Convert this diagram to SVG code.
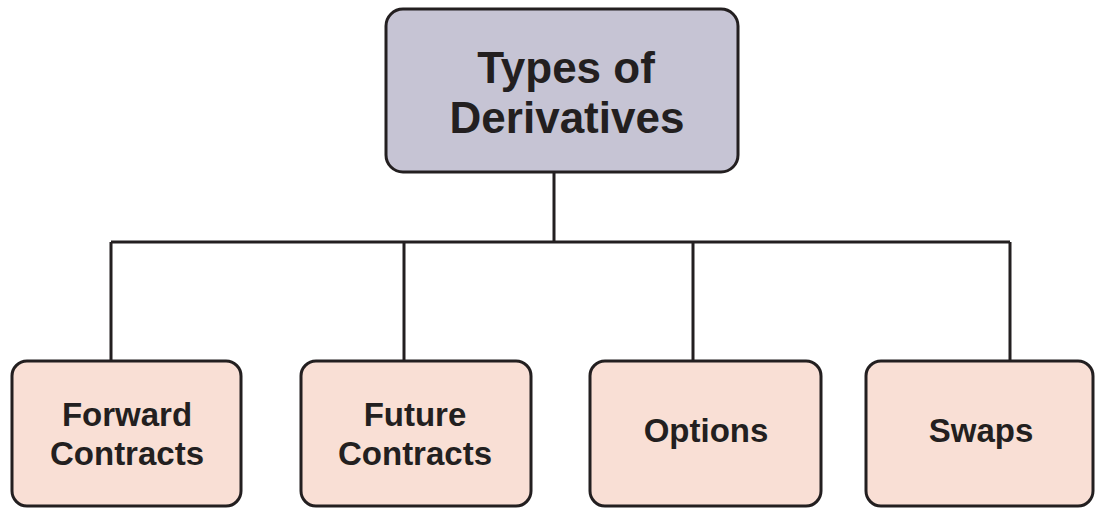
<svg xmlns="http://www.w3.org/2000/svg" width="1095" height="508" viewBox="0 0 1095 508">
<style>
.box{stroke:#231f20;stroke-width:3}
.top{fill:#c6c4d4}
.leaf{fill:#f9dfd5}
.conn{stroke:#231f20;stroke-width:3;fill:none}
text{font-family:"Liberation Sans",Arial,sans-serif;font-weight:bold;fill:#231f20;text-anchor:middle}
.t1{font-size:44px}
.t2{font-size:33px}
</style>
<rect width="1095" height="508" fill="#ffffff"/>
<g id="connectors">
<path class="conn" d="M554,172 V242 M111,242 H1010 M111,242 V361 M404,242 V361 M693,242 V361 M1010,242 V361"/>
</g>
<g id="root">
<rect class="box top" x="386" y="9" width="352" height="163" rx="17"/>
<text class="t1" x="566" y="83">Types of</text>
<text class="t1" x="567" y="133">Derivatives</text>
</g>
<g id="forward">
<rect class="box leaf" x="12" y="361" width="229" height="145" rx="15"/>
<text class="t2" x="127" y="426">Forward</text>
<text class="t2" x="127" y="465">Contracts</text>
</g>
<g id="future">
<rect class="box leaf" x="301" y="361" width="230" height="145" rx="15"/>
<text class="t2" x="415" y="426">Future</text>
<text class="t2" x="415" y="465">Contracts</text>
</g>
<g id="options">
<rect class="box leaf" x="590" y="361" width="231" height="145" rx="15"/>
<text class="t2" x="706" y="442">Options</text>
</g>
<g id="swaps">
<rect class="box leaf" x="866" y="361" width="227" height="145" rx="15"/>
<text class="t2" x="981" y="442">Swaps</text>
</g>
</svg>
